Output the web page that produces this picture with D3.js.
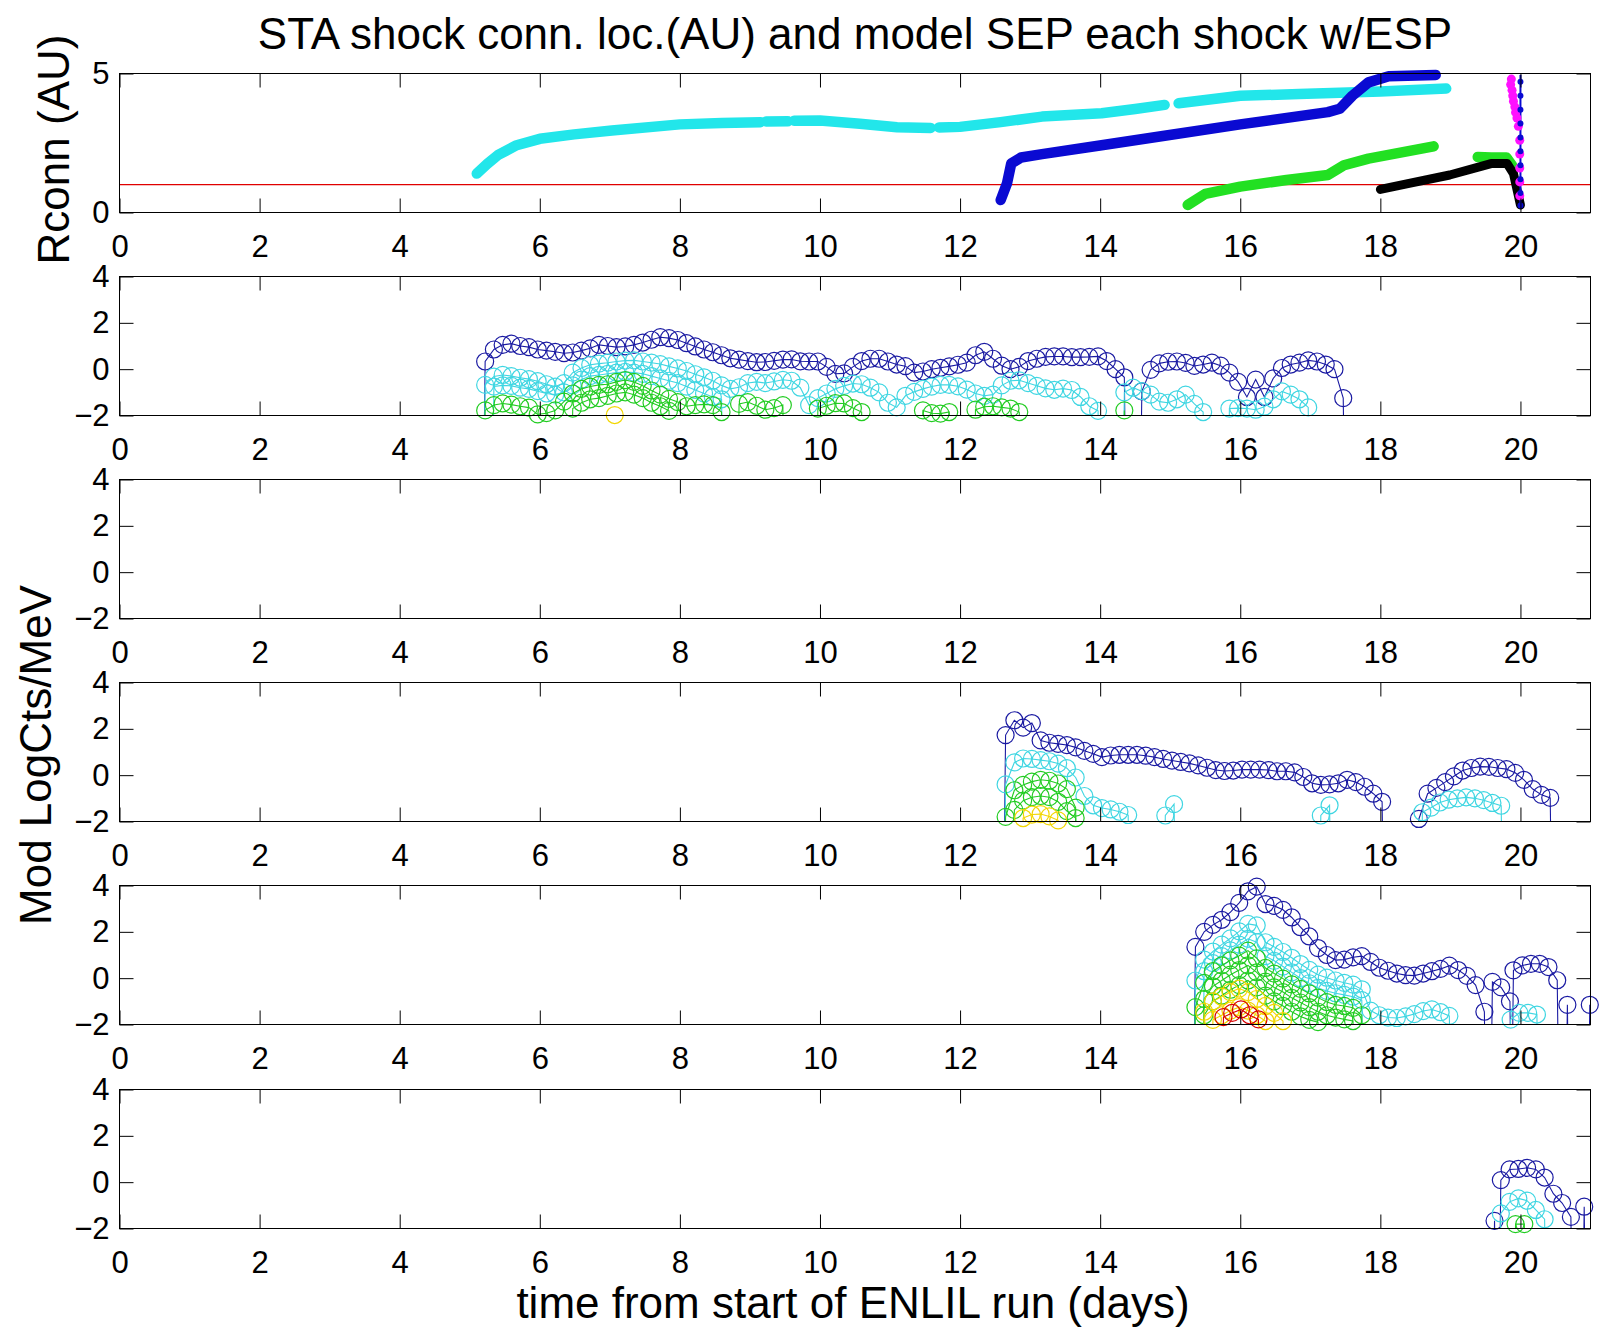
<!DOCTYPE html>
<html><head><meta charset="utf-8">
<script src="https://cdn.jsdelivr.net/npm/d3@7"></script>
<style>
body{margin:0;background:#fff;}
svg{display:block;font-family:"Liberation Sans",Arial,Helvetica,sans-serif;}
</style></head><body>
<svg id="c" width="1601" height="1331"></svg>
<script>
// ---------------- DATA ----------------
const titleText = "STA shock conn. loc.(AU) and model SEP each shock w/ESP";
const xLabel = "time from start of ENLIL run (days)";
const yLabelTop = "Rconn (AU)";
const yLabelBottom = "Mod LogCts/MeV";
const xTicks = [0,2,4,6,8,10,12,14,16,18,20];
const rTicks = [0,5];
const sepTicks = [-2,0,2,4];
const rRefLevel = 1;              // 1 AU reference line

// Panel 1: connection radius (AU) per shock, segments of [day, AU]
const rconnCyan = [
  [[5.1,1.4],[5.25,1.75],[5.4,2.06],[5.67,2.42],[6.0,2.65],[6.49,2.81],[7.03,2.95],[8.0,3.17],[8.6,3.22],[9.15,3.25]],
  [[9.23,3.27],[9.54,3.28]],
  [[9.63,3.3],[10.0,3.31],[10.57,3.19],[11.1,3.07],[11.58,3.04]],
  [[11.7,3.06],[12.0,3.08],[12.58,3.25],[13.17,3.45],[14.02,3.57],[14.5,3.72],[14.92,3.87]],
  [[15.12,3.93],[16.0,4.2],[16.84,4.26],[18.0,4.35],[18.94,4.46]]
];
const rconnBlue = [
  [[12.58,0.45],[12.67,1.05],[12.73,1.76],[12.87,1.98],[13.17,2.1],[14.02,2.42],[14.92,2.76],[16.0,3.17],[17.25,3.61],[17.42,3.73],[17.6,4.2],[17.83,4.68],[18.12,4.9],[18.79,4.95]]
];
const rconnGreen = [
  [[15.25,0.27],[15.5,0.67],[16.0,0.93],[16.66,1.17],[17.25,1.35],[17.48,1.7],[17.83,1.94],[18.76,2.38]],
  [[19.39,2.0],[19.58,1.98],[19.8,1.98],[19.88,1.7]]
];
const rconnBlack = [
  [[18.0,0.83],[18.41,1.05],[18.99,1.35],[19.58,1.76],[19.81,1.76],[19.9,1.4],[20.0,0.27]]
];
const rconnBlueVert = [[20.0,4.95],[20.0,0.2]];
const rconnBlueVertPts = [[20.0,4.7],[20.0,4.2],[20.0,3.7],[20.0,3.2],[20.0,2.7],[20.0,2.2],[20.0,1.7],[20.0,1.2],[20.0,0.7],[20.0,0.25]];
const rconnMagentaPts = [[19.87,4.8],[19.86,4.6],[19.88,4.4],[19.89,4.2],[19.9,4.0],[19.92,3.8],[19.93,3.6],[19.95,3.4],[19.97,3.1],[19.99,2.6],[19.99,2.1],[19.99,1.6],[19.99,1.1],[19.99,0.6]];

// Panels 2-6: model log counts/MeV; segments [startDay, values every DT days]
const DT = 0.125;     // model output step (days)
const FLOOR = -30;    // empty bins (log of ~0 counts), below the axis

const p2Blue = [
  [5.22,[0.33,0.85,1.05,1.1,1.0,0.95,0.85,0.8,0.75,0.69,0.72,0.8,0.9,1.05,1.0,0.95,0.98,1.05,1.15,1.27,1.38,1.34,1.26,1.12,0.98,0.85,0.73,0.6,0.47,0.41,0.35,0.3,0.31,0.36,0.41,0.42,0.34,0.33,0.33,0.1,-0.2,-0.18,0.1,0.35,0.45,0.45,0.33,0.2,0.13,-0.15,-0.1,0.0,0.06,0.12,0.19,0.28,0.6,0.75,0.45,0.15,0.0,0.1,0.35,0.45,0.53,0.55,0.55,0.52,0.52,0.53,0.55,0.35,0.0,-0.35]],
  [14.595,[-0.96,-0.03,0.25,0.32,0.33,0.27,0.14,0.2,0.28,0.15,-0.15,-0.55,-1.2,-0.45,-1.2,-0.4,0.05,0.2,0.28,0.38,0.33,0.2,0.0,-1.25]]
];
const p2Cyan = [
  [5.22,[-0.68,-0.32,-0.25,-0.3,-0.37,-0.43,-0.52,-0.65,-0.75,-0.6,-0.15,0.05,0.19,0.24,0.28,0.33,0.37,0.38,0.33,0.28,0.22,0.12,0.03,-0.08,-0.22,-0.35,-0.5,-0.7,-0.85,-0.78,-0.6,-0.55,-0.6,-0.53,-0.46,-0.5,-0.8,-1.55,-1.25,-1.05,-0.85,-0.72,-0.62,-0.65,-0.8,-1.0,-1.45,-1.65,-1.15,-0.98,-0.85,-0.75,-0.68,-0.68,-0.74,-0.88,-1.05,-1.15,-1.1,-0.7,-0.5,-0.48,-0.6,-0.72,-0.83,-0.89,-0.84,-0.9,-1.2,-1.6,-1.8]],
  [14.345,[-1.0,-0.8,-0.95,-1.1,-1.4,-1.45,-1.3,-1.1,-1.5,-1.85]],
  [15.845,[-1.7,-1.68,-1.7,-1.75,-1.62,-1.3,-0.96,-1.1,-1.3,-1.65]]
];
const p2Cyan2 = [
  [5.345,[-0.75,-0.7,-0.72,-0.8,-0.85,-0.95,-1.05,-1.1,-1.0,-0.7,-0.45,-0.3,-0.25,-0.2,-0.15,-0.12,-0.15,-0.2,-0.3,-0.4,-0.5,-0.6,-0.75,-0.9,-1.05,-1.2,-1.3]]
];
const p2Green = [
  [5.22,[-1.78,-1.55,-1.48,-1.53,-1.6,-1.66,-1.95,-1.9,-1.78,-1.4,-1.05,-0.85,-0.75,-0.68,-0.65,-0.55,-0.47,-0.55,-0.72,-0.92,-1.1,-1.28,-1.42,-1.6,-1.55,-1.52,-1.55,-1.85]],
  [8.845,[-1.5,-1.42,-1.58,-1.75,-1.68,-1.55]],
  [9.97,[-1.7,-1.58,-1.47,-1.48,-1.68,-1.85]],
  [11.47,[-1.78,-1.9,-1.92,-1.85]],
  [12.22,[-1.75,-1.62,-1.6,-1.65,-1.7,-1.85]],
  [14.345,[-1.78]]
];
const p2Green2 = [[6.47,[-1.7,-1.45,-1.3,-1.25,-1.15,-1.05,-1.0,-1.1,-1.25,-1.45,-1.6,-1.8]]];
const p2Yellow = [[7.07,[-1.98]]];

const p4Blue = [
  [12.65,[1.73,2.37,2.05,2.25,1.5,1.4,1.35,1.3,1.2,1.05,0.92,0.78,0.85,0.88,0.88,0.88,0.84,0.78,0.7,0.63,0.57,0.51,0.42,0.32,0.22,0.18,0.2,0.24,0.24,0.24,0.22,0.17,0.17,0.12,-0.08,-0.35,-0.42,-0.4,-0.35,-0.2,-0.3,-0.5,-0.8,-1.15]],
  [18.55,[-1.89,-0.8,-0.55,-0.3,-0.05,0.2,0.31,0.37,0.36,0.31,0.26,0.1,-0.2,-0.6,-0.85,-0.98]]
];
const p4Cyan = [
  [12.65,[-0.4,0.55,0.72,0.7,0.65,0.6,0.5,0.3,-0.1,-0.9,-1.3,-1.42,-1.48,-1.58,-1.72]],
  [14.93,[-1.74,-1.25]],
  [17.15,[-1.74,-1.3]],
  [18.6,[-1.6,-1.4,-1.18,-1.06,-1.0,-0.96,-1.0,-1.08,-1.2,-1.32]]
];
const p4Green = [[12.65,[-1.8,-0.65,-0.42,-0.28,-0.2,-0.24,-0.36,-0.6,-1.4]]];
const p4Green2 = [[12.775,[-1.5,-1.1,-0.95,-0.9,-0.95,-1.15,-1.55,-1.85]]];
const p4Yellow = [[12.9,[-1.85,-1.7,-1.68,-1.78,-1.95]]];

const p5Blue = [
  [15.36,[1.35,2.0,2.3,2.52,2.85,3.25,3.75,3.95,3.2,3.12,2.95,2.62,2.2,1.8,1.3,1.0,0.78,0.8,0.9,0.95,0.7,0.45,0.32,0.2,0.13,0.11,0.2,0.3,0.4,0.54,0.35,0.1,-0.3,-1.45]],
  [19.6,[-0.16,-0.4,-1.0]],
  [19.9,[0.34,0.55,0.62,0.62,0.48,-0.09]],
  [20.67,[-1.15]],
  [20.99,[-1.15]]
];
const p5Cyan = [
  [15.36,[-0.1,0.8,1.15,1.45,1.72,2.02,2.34,2.28,1.55,1.35,1.13,0.88,0.61,0.36,0.15,0.02,-0.1,-0.2,-0.28,-0.48,-1.4,-1.6,-1.7,-1.72,-1.65,-1.55,-1.42,-1.35,-1.47,-1.63]],
  [19.86,[-1.79,-1.5,-1.5,-1.57]]
];
const p5Cyan2 = [[15.485,[0.3,0.65,0.95,1.2,1.45,1.7,1.55,0.95,0.75,0.5,0.25,0.0,-0.22,-0.42,-0.55,-0.65,-0.72,-0.8,-0.95]]];
const p5Green = [[15.36,[-1.25,-0.2,0.3,0.55,0.77,0.97,1.19,0.86,0.44,0.2,-0.02,-0.27,-0.46,-0.66,-0.84,-1.03,-1.15,-1.2,-1.28,-1.6]]];
const p5Green2 = [[15.485,[-0.9,-0.35,-0.1,0.15,0.35,0.55,0.25,-0.15,-0.4,-0.6,-0.85,-1.05,-1.25,-1.45,-1.6,-1.7,-1.78,-1.85]]];
const p5Green3 = [[15.485,[-1.6,-1.0,-0.75,-0.5,-0.3,-0.1,-0.4,-0.75,-1.0,-1.2,-1.45,-1.65,-1.8,-1.9]]];
const p5Yellow = [[15.485,[-1.45,-1.0,-0.8,-0.6,-0.45,-0.6,-0.9,-1.2,-1.5,-1.85]]];
const p5Yellow2 = [[15.61,[-1.8,-1.6,-1.4,-1.25,-1.4,-1.6,-1.85]]];
const p5Red = [[15.76,[-1.68,-1.5,-1.35,-1.6,-1.78]]];

const p6Blue = [
  [19.63,[-1.67]],
  [19.72,[0.09,0.55,0.57,0.62,0.55,0.2,-0.5,-0.9,-1.5]],
  [20.91,[-1.06]]
];
const p6Cyan = [[19.72,[-1.35,-0.85,-0.7,-0.8,-1.2,-1.6]]];
const p6Green = [[19.93,[-1.81,-1.81]]];

// ---------------- STYLE ----------------
const C_BLUE = "#1a1aa2", C_CYAN = "#3fd6e2", C_GREEN = "#22cc22", C_YEL = "#f2d600", C_RED = "#d80000";
const C1_CYAN = "#22e6ea", C1_BLUE = "#0a0ad2", C1_GREEN = "#22e022", C1_BLACK = "#000", C1_MAG = "#ff10ff";

const panels = [
  [{c:C_BLUE,d:p2Blue},{c:C_CYAN,d:p2Cyan},{c:C_CYAN,d:p2Cyan2},{c:C_GREEN,d:p2Green},{c:C_GREEN,d:p2Green2},{c:C_YEL,d:p2Yellow}],
  [],
  [{c:C_BLUE,d:p4Blue},{c:C_CYAN,d:p4Cyan},{c:C_GREEN,d:p4Green},{c:C_GREEN,d:p4Green2},{c:C_YEL,d:p4Yellow}],
  [{c:C_BLUE,d:p5Blue},{c:C_CYAN,d:p5Cyan},{c:C_CYAN,d:p5Cyan2},{c:C_GREEN,d:p5Green},{c:C_GREEN,d:p5Green2},{c:C_GREEN,d:p5Green3},{c:C_YEL,d:p5Yellow},{c:C_YEL,d:p5Yellow2},{c:C_RED,d:p5Red}],
  [{c:C_BLUE,d:p6Blue},{c:C_CYAN,d:p6Cyan},{c:C_GREEN,d:p6Green}]
];

// ---------------- LAYOUT ----------------
const svg = d3.select("#c");
const left = 119.5, right = 1590.5;
const panelH = 139, TL = 14;
const FONT_TICK = 31, FONT_LAB = 44;
const topOf = i => Math.round(73 + 203.1*i) + 0.5;
const x = d3.scaleLinear().domain([0,21]).range([left,right]);
const intFmt = d3.format("d");

function frame(g, top, y, yT){
  const bottom = top + panelH;
  const styleAxis = sel => { sel.select(".domain").remove(); sel.attr("font-size",FONT_TICK).attr("font-family",null); sel.selectAll("line").attr("stroke","#000"); };
  g.append("g").attr("transform",`translate(0,${bottom})`)
    .call(d3.axisBottom(x).tickValues(xTicks).tickSize(-TL).tickPadding(22).tickFormat(intFmt)).call(styleAxis);
  g.append("g").attr("transform",`translate(0,${top})`)
    .call(d3.axisTop(x).tickValues(xTicks).tickSize(-TL).tickFormat("")).call(styleAxis);
  g.append("g").attr("transform",`translate(${left},0)`)
    .call(d3.axisLeft(y).tickValues(yT).tickSize(-TL).tickPadding(10).tickFormat(intFmt)).call(styleAxis);
  g.append("g").attr("transform",`translate(${right},0)`)
    .call(d3.axisRight(y).tickValues(yT).tickSize(-TL).tickFormat("")).call(styleAxis);
  g.append("rect").attr("x",left).attr("y",top).attr("width",right-left).attr("height",panelH)
    .attr("fill","none").attr("stroke","#000").attr("stroke-width",1);
}

// Panel 1
{
  const top = topOf(0);
  const y = d3.scaleLinear().domain([0,5]).range([top+panelH, top]);
  const g = svg.append("g");
  const ln = d3.line().x(d=>x(d[0])).y(d=>y(d[1]));
  g.append("path").attr("d", ln([[0,rRefLevel],[21,rRefLevel]])).attr("stroke","#e00000").attr("stroke-width",1.2).attr("fill","none");
  const thick = (segs, col, w) => segs.forEach(s => g.append("path").attr("d", ln(s)).attr("fill","none")
      .attr("stroke",col).attr("stroke-width",w).attr("stroke-linecap","round").attr("stroke-linejoin","round"));
  thick(rconnCyan, C1_CYAN, 10.5);
  thick(rconnBlue, C1_BLUE, 10.5);
  thick(rconnGreen, C1_GREEN, 10.5);
  thick(rconnBlack, C1_BLACK, 9);
  g.append("path").attr("d", ln(rconnBlueVert)).attr("stroke",C1_BLUE).attr("stroke-width",2).attr("fill","none");
  g.selectAll(null).data(rconnMagentaPts).join("circle").attr("cx",d=>x(d[0])).attr("cy",d=>y(d[1])).attr("r",4.5).attr("fill",C1_MAG);
  g.selectAll(null).data(rconnBlueVertPts).join("circle").attr("cx",d=>x(d[0])).attr("cy",d=>y(d[1])).attr("r",3).attr("fill",C1_BLUE);
  frame(g, top, y, rTicks);
}

// Panels 2-6
panels.forEach((series, k) => {
  const i = k + 1;
  const top = topOf(i);
  const y = d3.scaleLinear().domain([-2,4]).range([top+panelH, top]);
  const g = svg.append("g");
  const clipId = "clip" + i;
  g.append("clipPath").attr("id", clipId).append("rect")
    .attr("x",left).attr("y",top).attr("width",right-left).attr("height",panelH);
  const ln = d3.line().x(d=>x(d[0])).y(d=>y(d[1]));
  series.forEach(ser => {
    ser.d.forEach(([t0, vals]) => {
      const pts = vals.map((v,j) => [t0 + j*DT, v]);
      const linePts = [[t0 - DT, FLOOR], ...pts, [t0 + vals.length*DT, FLOOR]];
      g.append("path").attr("d", ln(linePts)).attr("clip-path",`url(#${clipId})`)
        .attr("fill","none").attr("stroke",ser.c).attr("stroke-width",1.1);
      g.selectAll(null).data(pts.filter(p => p[1] >= -2.05 && p[1] <= 4.05)).join("circle")
        .attr("cx",d=>x(d[0])).attr("cy",d=>y(d[1])).attr("r",8.5)
        .attr("fill","none").attr("stroke",ser.c).attr("stroke-width",1.2);
    });
  });
  frame(g, top, y, sepTicks);
});

// Texts
svg.append("text").attr("x",855).attr("y",49).attr("text-anchor","middle").attr("font-size",FONT_LAB).text(titleText);
svg.append("text").attr("x",853).attr("y",1318).attr("text-anchor","middle").attr("font-size",FONT_LAB).text(xLabel);
svg.append("text").attr("transform","translate(69,149.5) rotate(-90)").attr("text-anchor","middle").attr("font-size",FONT_LAB).text(yLabelTop);
svg.append("text").attr("transform","translate(51,755) rotate(-90)").attr("text-anchor","middle").attr("font-size",FONT_LAB).text(yLabelBottom);
</script>
</body></html>
